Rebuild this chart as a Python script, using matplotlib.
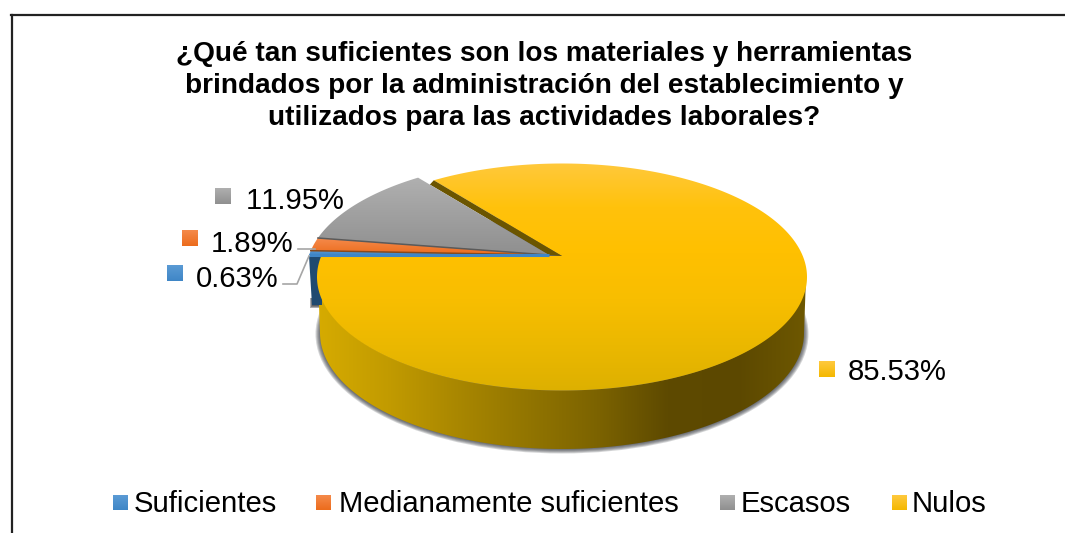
"""Pie de satisfaccion con materiales, dibujado a mano en pixeles (pseudo 3D)."""
import numpy as np
import matplotlib
matplotlib.use("Agg")
import matplotlib.pyplot as plt
from matplotlib.colors import LinearSegmentedColormap
from matplotlib.patches import Ellipse, Polygon, Rectangle

plt.rcParams["font.family"] = ["Liberation Sans", "DejaVu Sans"]
plt.rcParams["text.kerning_factor"] = 6

TITLE = ("¿Qué tan suficientes son los materiales y herramientas\n"
         "brindados por la administración del establecimiento y\n"
         "utilizados para las actividades laborales?")
categories = ["Suficientes", "Medianamente suficientes", "Escasos", "Nulos"]
values = [0.63, 1.89, 11.95, 85.53]
face_top = ["#5B9BD5", "#F58A4B", "#B0B0B0", "#FFC93F"]
face_bottom = ["#3F86C6", "#EC6C1C", "#8F8F8F", "#F4B800"]

W, H = 1065, 533
TILT = 0.46

fig = plt.figure(figsize=(W / 100, H / 100), dpi=100)
ax = fig.add_axes([0, 0, 1, 1])


def cmap(*cols):
    return LinearSegmentedColormap.from_list("g", list(cols))


def grad(patch, extent, cm, horizontal=False, z=2):
    """Rellena un patch con un degradado recortado a su forma."""
    ax.add_patch(patch)
    patch.set_facecolor("none")
    patch.set_edgecolor("none")
    g = np.linspace(0, 1, 256)
    g = g.reshape(1, -1) if horizontal else g.reshape(-1, 1)
    im = ax.imshow(g, extent=extent, cmap=cm, aspect="auto", zorder=z,
                   vmin=0, vmax=1, interpolation="bilinear", origin="upper")
    im.set_clip_path(patch)
    return im


def ray_hit(apex, center, rx, ry, ang):
    """Punto donde el rayo (angulo del pie) corta la elipse de la tapa."""
    d = np.array([np.cos(ang), TILT * np.sin(ang) * -1])
    o = np.array(apex) - np.array(center)
    a = (d[0] / rx) ** 2 + (d[1] / ry) ** 2
    b = 2 * (o[0] * d[0] / rx ** 2 + o[1] * d[1] / ry ** 2)
    c = (o[0] / rx) ** 2 + (o[1] / ry) ** 2 - 1
    t = (-b + np.sqrt(b * b - 4 * a * c)) / (2 * a)
    return o + t * d


def wedge(apex, center, rx, ry, a0, a1):
    """Poligono de una porcion: de a0 a a1 (sentido horario, grados)."""
    p0 = ray_hit(apex, center, rx, ry, np.radians(a0))
    p1 = ray_hit(apex, center, rx, ry, np.radians(a1))
    t0 = np.arctan2(-p0[1] / ry, p0[0] / rx)
    t1 = np.arctan2(-p1[1] / ry, p1[0] / rx)
    while t1 > t0:
        t1 -= 2 * np.pi
    t = np.linspace(t0, t1, 400)
    xs = center[0] + rx * np.cos(t)
    ys = center[1] - ry * np.sin(t)
    return np.vstack([apex, np.column_stack([xs, ys])])


# angulos a partir de los valores, desde la izquierda en sentido horario
edges = 180 - np.cumsum([0] + values) * 3.6

# geometria en pixeles
big_apex, big_c, big_rx, big_ry = (562, 256), (562, 277), 245, 113.5
low_c, low_rx, low_ry = (562, 333), 242, 116
small_apex, small_c = (549, 255), (551, 273)

# sombra de la pared
for i in range(6):
    ax.add_patch(Ellipse((low_c[0], low_c[1] + 1), 2 * (low_rx + 4.5 - i), 2 * (low_ry + 3.5 - i * 0.9),
                         fc="#30343A", ec="none", alpha=0.2, zorder=1))
for i in range(3):
    ax.add_patch(Rectangle((310 + i, 298), 12, 10 - i, fc="#30343A", ec="none", alpha=0.4, zorder=1))

# pared lateral de Nulos
th = np.linspace(0, np.pi, 300)
top_x = big_c[0] + (big_rx - 1) * np.cos(th)
top_y = big_c[1] + big_ry * np.sin(th)
low_x = low_c[0] + low_rx * np.cos(th[::-1])
low_y = low_c[1] + low_ry * np.sin(th[::-1])
wall = Polygon(np.column_stack([np.r_[top_x, low_x], np.r_[top_y, low_y]]), closed=True)
grad(wall, (317, 808, 460, 270),
     cmap("#D6AB00", "#C29B00", "#A98700", "#927500", "#7C6300", "#5E4A00", "#5C4800", "#6E5800"),
     horizontal=True, z=2)

# cara interior azul
ax.add_patch(Polygon([(309, 256), (322, 256), (322, 305), (312, 305)], closed=True,
                     fc="#1F4A70", ec="none", zorder=2))

# tapa de Nulos
nulos_pts = wedge(big_apex, big_c, big_rx, big_ry, edges[3], edges[4])
grad(Polygon(nulos_pts, closed=True), (310, 815, 392, 160),
     cmap("#FFC93F", "#FFC20C", "#FFC000", "#F8BE00", "#EBB800", "#DDB000"), z=3)

# corte oscuro entre Escasos y Nulos
p_n = ray_hit(big_apex, big_c, big_rx, big_ry, np.radians(edges[3])) + np.array(big_c)
g_tip = ray_hit(small_apex, small_c, big_rx, big_ry, np.radians(edges[3])) + np.array(small_c)
g_low = g_tip + 0.09 * (np.array(small_apex) - g_tip)
ax.add_patch(Polygon([p_n, big_apex, small_apex, g_low], closed=True,
                     fc="#6B5500", ec="none", zorder=4))

# porciones pequenas
for i in [2, 1, 0]:
    pts = wedge(small_apex, small_c, big_rx, big_ry, edges[i], edges[i + 1])
    ys = pts[:, 1]
    xs = pts[:, 0]
    grad(Polygon(pts, closed=True), (xs.min(), xs.max(), ys.max(), ys.min()),
         cmap(face_top[i], face_bottom[i]), z=5)
    if i > 0:
        tip = ray_hit(small_apex, small_c, big_rx, big_ry, np.radians(edges[i])) + np.array(small_c)
        ax.plot([tip[0], small_apex[0]], [tip[1], small_apex[1]],
                color="#5A5A5A" if i == 2 else "#8A4A1A", lw=1.1, zorder=6)

# el borde azul se ve casi del mismo grueso hasta el vertice
blue_end = ray_hit(small_apex, small_c, big_rx, big_ry, np.radians(edges[0])) + np.array(small_c)
ax.plot([blue_end[0], small_apex[0]], [blue_end[1], small_apex[1]], color="#3F86C6", lw=2.2,
        solid_capstyle="butt", zorder=6)

# lineas guia
ax.plot([298, 315], [249, 249], color="#A6A6A6", lw=1.2, zorder=7)
ax.plot([283, 297, 309], [284, 284, 256], color="#A6A6A6", lw=1.2, zorder=7)

# etiquetas con su cuadrito
label_sq = [(167, 265), (182, 230), (215, 188), (819, 361)]
label_txt = [(196, 276), (211, 241), (246, 198), (848, 369)]
for i, v in enumerate(values):
    x, y = label_sq[i]
    grad(Rectangle((x, y), 16, 16), (x, x + 16, y + 16, y), cmap(face_top[i], face_bottom[i]), z=8)
    ax.text(*label_txt[i], f"{v:.2f}%", fontsize=21.1, color="#000000", va="center_baseline", ha="left", zorder=9)

# leyenda
legend_sq = [113, 316, 720, 892]
legend_txt = [134, 339, 741, 912]
for i, cat in enumerate(categories):
    x = legend_sq[i]
    grad(Rectangle((x, 495), 15, 15), (x, x + 15, 510, 495), cmap(face_top[i], face_bottom[i]), z=8)
    ax.text(legend_txt[i], 500.5, cat, fontsize=21.1, color="#000000", va="center_baseline", ha="left", zorder=9)

# titulo
ax.text(544, 86, TITLE, fontsize=20.2, fontweight="bold", color="#000000", ha="center", va="center",
        linespacing=1.3, zorder=9)

# marco, sale por la derecha y por abajo
ax.plot([11.5, 11.5], [H + 5, 15], color="#222222", lw=1.6, zorder=9, solid_joinstyle="miter")
ax.plot([11, W + 5], [15, 15], color="#222222", lw=1.6, zorder=9)

ax.set_xlim(0, W)
ax.set_ylim(H, 0)
ax.axis("off")
fig.savefig("out.png", dpi=100, facecolor="white")
